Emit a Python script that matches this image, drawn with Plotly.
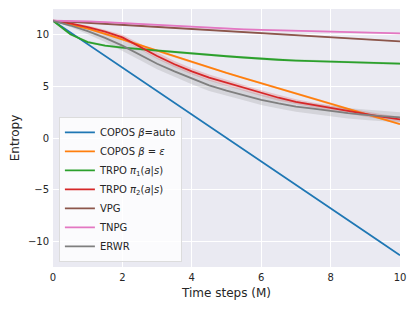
import plotly.graph_objects as go

# ---- data ----
x = [0, 0.5, 1, 1.5, 2, 2.5, 3, 3.5, 4, 4.5, 5, 5.5, 6, 6.5, 7, 7.5, 8, 8.5, 9, 9.5, 10]

copos_auto = [11.36, 10.22, 9.09, 7.95, 6.82, 5.68, 4.54, 3.41, 2.27, 1.14, 0.0,
              -1.14, -2.27, -3.41, -4.54, -5.68, -6.82, -7.95, -9.09, -10.22, -11.36]
copos_eps = [11.36, 11.0, 10.6, 10.1, 9.55, 9.0, 8.45, 7.9, 7.35, 6.85, 6.3,
             5.8, 5.3, 4.8, 4.3, 3.8, 3.3, 2.8, 2.3, 1.8, 1.35]
trpo_pi1 = [11.36, 10.05, 9.3, 8.95, 8.75, 8.6, 8.45, 8.3, 8.15, 8.03, 7.92,
            7.8, 7.67, 7.58, 7.5, 7.45, 7.4, 7.35, 7.3, 7.25, 7.2]
trpo_pi2 = [11.36, 11.1, 10.75, 10.3, 9.75, 8.85, 7.95, 7.15, 6.45, 5.85, 5.35,
            4.85, 4.35, 3.9, 3.5, 3.2, 2.9, 2.6, 2.3, 2.05, 1.8]
vpg = [11.36, 11.26, 11.16, 11.06, 10.96, 10.86, 10.76, 10.66, 10.56, 10.46, 10.36,
       10.26, 10.16, 10.06, 9.96, 9.86, 9.76, 9.66, 9.56, 9.46, 9.36]
tnpg = [11.36, 11.34, 11.3, 11.22, 11.13, 11.04, 10.95, 10.85, 10.75, 10.65, 10.57,
        10.52, 10.47, 10.43, 10.38, 10.33, 10.28, 10.24, 10.2, 10.17, 10.13]
erwr = [11.36, 10.9, 10.35, 9.7, 8.95, 8.1, 7.2, 6.45, 5.75, 5.1, 4.6,
        4.15, 3.7, 3.35, 3.05, 2.85, 2.6, 2.4, 2.25, 2.1, 2.0]

# spread (shaded band half-widths)
copos_auto_sd = [0.0] * 21
copos_eps_sd = [0.0, 0.05, 0.08, 0.1, 0.1, 0.1, 0.1, 0.1, 0.1, 0.1, 0.1,
                0.1, 0.1, 0.1, 0.1, 0.1, 0.1, 0.1, 0.1, 0.1, 0.1]
trpo_pi1_sd = [0.0, 0.1, 0.12, 0.12, 0.12, 0.12, 0.12, 0.12, 0.12, 0.12, 0.12,
               0.12, 0.12, 0.12, 0.12, 0.12, 0.12, 0.12, 0.12, 0.12, 0.12]
trpo_pi2_sd = [0.0, 0.1, 0.15, 0.2, 0.25, 0.3, 0.3, 0.3, 0.3, 0.3, 0.3,
               0.28, 0.28, 0.28, 0.25, 0.25, 0.25, 0.25, 0.25, 0.25, 0.25]
vpg_sd = [0.05] * 21
tnpg_sd = [0.08] * 21
erwr_sd = [0.0, 0.15, 0.3, 0.4, 0.5, 0.55, 0.55, 0.55, 0.55, 0.55, 0.5,
           0.5, 0.5, 0.5, 0.5, 0.5, 0.5, 0.5, 0.5, 0.5, 0.5]

labels = [
    "COPOS <i>β</i>=auto",
    "COPOS <i>β</i> = <i>ε</i>",
    "TRPO <i>π</i><sub>1</sub>(<i>a</i>|<i>s</i>)",
    "TRPO <i>π</i><sub>2</sub>(<i>a</i>|<i>s</i>)",
    "VPG",
    "TNPG",
    "ERWR",
]
series = [copos_auto, copos_eps, trpo_pi1, trpo_pi2, vpg, tnpg, erwr]
spreads = [copos_auto_sd, copos_eps_sd, trpo_pi1_sd, trpo_pi2_sd, vpg_sd, tnpg_sd, erwr_sd]
colors = ["#1f77b4", "#ff7f0e", "#2ca02c", "#d62728", "#8c564b", "#e377c2", "#7f7f7f"]
x_ticks = [0, 2, 4, 6, 8, 10]
y_ticks = [-10, -5, 0, 5, 10]


def rgba(hexc, a):
    h = hexc.lstrip("#")
    r, g, b = int(h[0:2], 16), int(h[2:4], 16), int(h[4:6], 16)
    return f"rgba({r},{g},{b},{a})"


fig = go.Figure()
for ys, sd, c in zip(series, spreads, colors):
    upper = [v + s for v, s in zip(ys, sd)]
    lower = [v - s for v, s in zip(ys, sd)]
    fig.add_trace(go.Scatter(
        x=x + x[::-1], y=upper + lower[::-1], fill="toself",
        fillcolor=rgba(c, 0.2), line=dict(width=0), mode="lines",
        hoverinfo="skip", showlegend=False))
for ys, c, lab in zip(series, colors, labels):
    fig.add_trace(go.Scatter(x=x, y=ys, mode="lines", name=lab,
                             line=dict(color=c, width=1.8)))

font = dict(family="DejaVu Sans", size=10, color="#262626")
fig.update_layout(
    width=408, height=301,
    margin=dict(l=45, r=16, t=1, b=42, autoexpand=False),
    paper_bgcolor="white", plot_bgcolor="#EAEAF2",
    font=font,
    showlegend=True,
    legend=dict(x=0.017, y=0.02, xanchor="left", yanchor="bottom",
                bgcolor="rgba(255,255,255,0.8)", bordercolor="#dcdcdc",
                borderwidth=1, font=dict(family="DejaVu Sans", size=10, color="#262626"),
                itemwidth=30, tracegroupgap=0),
)
fig.update_xaxes(range=[0, 10], tickvals=x_ticks, showgrid=True, gridcolor="white",
                 gridwidth=1, zeroline=False, showline=False, ticks="",
                 automargin=False, ticklabelstandoff=3,
                 title=dict(text="Time steps (M)", standoff=6))
fig.update_yaxes(range=[-12.5, 12.5], tickvals=y_ticks,
                 ticktext=["−10", "−5", "0", "5", "10"],
                 showgrid=True, gridcolor="white", gridwidth=1, zeroline=False,
                 showline=False, ticks="", automargin=False, ticklabelstandoff=3,
                 title=dict(text="Entropy", standoff=8))

fig.write_html("out.html")
